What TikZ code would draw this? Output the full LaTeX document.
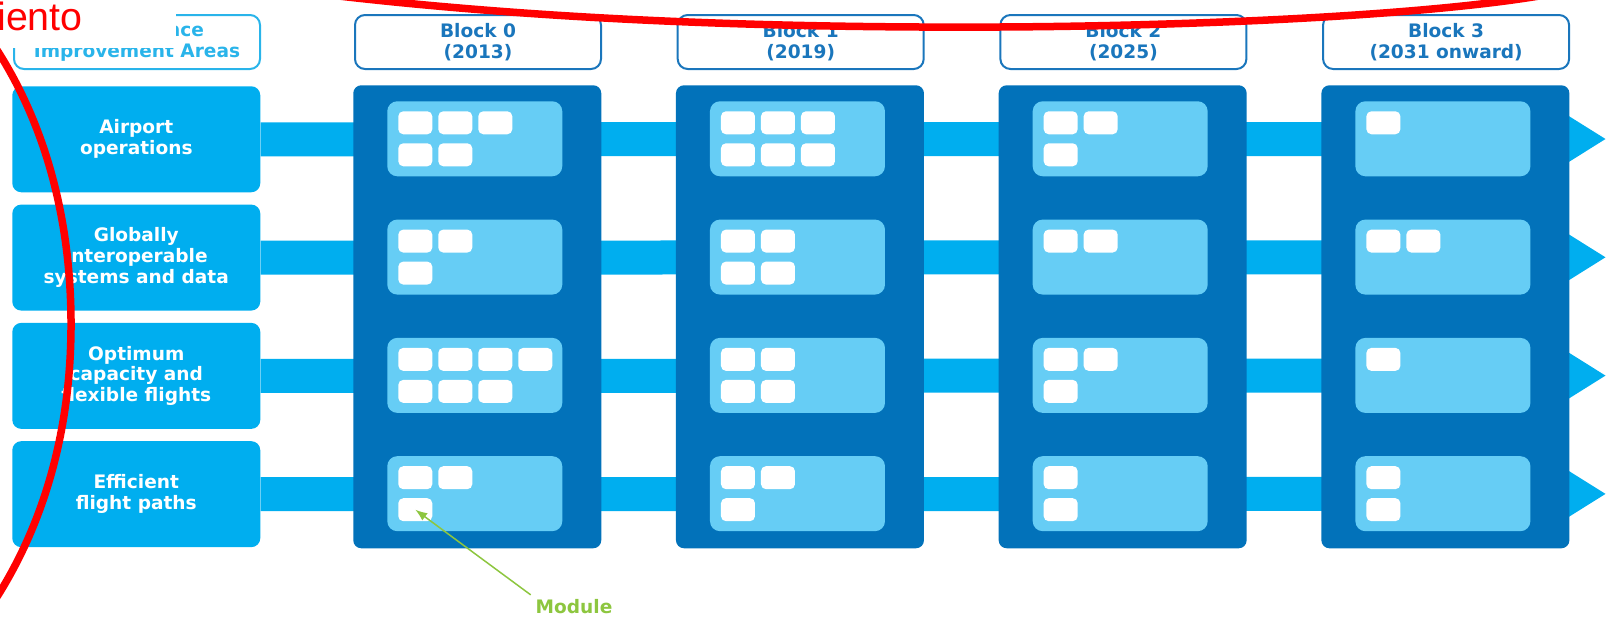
\documentclass[tikz,border=0pt]{standalone}
\usepackage{fontspec}
\setmainfont{DejaVu Sans}
\newfontfamily\tagfont{Liberation Sans}
\usetikzlibrary{arrows.meta}
\newlength{\unitpx}
\setlength{\unitpx}{0.025cm}
\definecolor{areablue}{RGB}{0,174,239}
\definecolor{blockblue}{RGB}{2,114,186}
\definecolor{panelblue}{RGB}{102,205,245}
\definecolor{headblue}{RGB}{26,118,188}
\definecolor{headcyan}{RGB}{41,180,234}
\definecolor{modgreen}{RGB}{141,198,63}

\begin{document}
\begin{tikzpicture}
    [
      x=0.025cm,
      y=-0.025cm,
      txt/.style={font=\bfseries\fontsize{13.2}{14.8}\selectfont,align=center},
      area/.style={txt,rectangle,rounded corners=9\unitpx,fill=areablue,text=white,anchor=north west,minimum width=248\unitpx,minimum height=106\unitpx,inner sep=0pt},
      head/.style={txt,rectangle,rounded corners=10\unitpx,draw=headblue,line width=2\unitpx,fill=white,text=headblue,anchor=north west,minimum width=246\unitpx,minimum height=54\unitpx,inner sep=0pt},
      block/.style={rectangle,rounded corners=8\unitpx,fill=blockblue,anchor=north west,minimum width=248\unitpx,minimum height=463\unitpx,inner sep=0pt},
      panel/.style={rectangle,rounded corners=10\unitpx,fill=panelblue,anchor=north west,minimum width=175\unitpx,minimum height=75\unitpx,inner sep=0pt},
      module/.style={rectangle,rounded corners=5\unitpx,fill=white,anchor=north west,minimum width=34\unitpx,minimum height=23\unitpx,inner sep=0pt},
      bar/.style={areablue,line width=34\unitpx,-{Triangle[length=26.9pt,width=31.2pt]}},
      pointer/.style={modgreen,line width=1.5\unitpx,-{Latex[length=8.5pt,width=6.4pt]}},
      redmark/.style={red,line width=7.5\unitpx,line cap=round},
    ]
    \useasboundingbox (0,0) rectangle (1606,618);

    \foreach \r/\txt in {1/{Airport\\operations}, 2/{Globally\\interoperable\\systems and data},
                         3/{Optimum\\capacity and\\flexible flights}, 4/{Efficient\\flight paths}}
      \node[area] (lab\r) at (12, {86+118.3*(\r-1)}) {\txt};

    \foreach \r in {1,...,4} {
      \coordinate (tip\r) at (1606, {139+118.3*(\r-1)});
      \draw[bar] (lab\r.east) -- (tip\r);
    }

    \node[head, draw=headcyan, text=headcyan] (hdarea) at (13,14) {Performance\\Improvement Areas};

    \foreach \b/\yr in {0/2013, 1/2019, 2/2025, 3/2031 onward} {
      \node[head] (hd\b) at ({354+322.7*\b}, 14) {Block \b\\(\yr)};
      \node[block] (blk\b) at ({353+322.7*\b}, 85) {};
      \foreach \r in {1,...,4}
        \node[panel] (pn\b-\r) at ({387+322.7*\b}, {101+118.3*(\r-1)}) {};
    }

    \foreach \b/\r/\na/\nb in {0/1/3/2, 1/1/3/3, 2/1/2/1, 3/1/1/0,
                                0/2/2/1, 1/2/2/2, 2/2/2/0, 3/2/2/0,
                                0/3/4/3, 1/3/2/2, 2/3/2/1, 3/3/1/0,
                                0/4/2/1, 1/4/2/1, 2/4/1/1, 3/4/1/1} {
      \foreach \k in {1,...,\na}
        \node[module] (m\b-\r-1-\k) at ([shift={({11+40*(\k-1)},10)}]pn\b-\r.north west) {};
      \ifnum\nb>0
        \foreach \k in {1,...,\nb}
          \node[module] (m\b-\r-2-\k) at ([shift={({11+40*(\k-1)},42)}]pn\b-\r.north west) {};
      \fi
    }

    \node[txt, text=modgreen] (modtxt) at (574,607) {Module};
    \draw[pointer] (modtxt.north west) -- (m0-4-2-1.center);

    \node[fill=white, anchor=north west, minimum width=176\unitpx, minimum height=48\unitpx, inner sep=0pt] (cover) at (0,0) {};
    \node[font=\tagfont\fontsize{28}{32}\selectfont, text=red, anchor=base west, inner sep=0pt] (tag) at (-3,30) {iento};
    \draw[redmark] (-3,50) .. controls (45,125) and (72,220) .. (71,330) .. controls (70,440) and (40,530) .. (-5,600);
    \draw[redmark] (330,-5) .. controls (560,22) and (800,28) .. (1000,27) .. controls (1200,26) and (1430,15) .. (1545,-5);
  \end{tikzpicture}
\end{document}
